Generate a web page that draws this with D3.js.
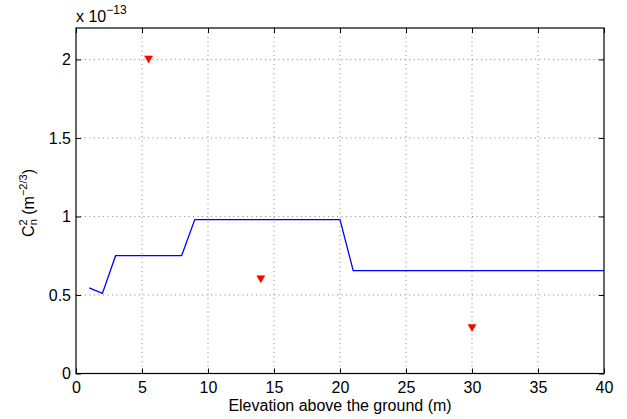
<!DOCTYPE html>
<html><head><meta charset="utf-8">
<script src="https://cdn.jsdelivr.net/npm/d3@7"></script>
<style>body{margin:0;background:#fff}svg{display:block}text{font-family:"Liberation Sans",Arial,sans-serif}</style>
</head><body><svg id="c" width="627" height="419"></svg>
<script>
const lineX = [1, 2, 3, 8, 9, 20, 21, 40];
const lineY = [0.545, 0.51, 0.75, 0.75, 0.98, 0.98, 0.655, 0.655];
const markX = [5.5, 14, 30];
const markY = [2.0, 0.6, 0.29];
const xTicks = [0, 5, 10, 15, 20, 25, 30, 35, 40];
const yTicks = [0, 0.5, 1, 1.5, 2];
const yTickLabels = ["0", "0.5", "1", "1.5", "2"];

const svg = d3.select("#c");
const L = 76, R = 604, T = 28, B = 373.5;
const x = d3.scaleLinear().domain([0, 40]).range([L, R]);
const y = d3.scaleLinear().domain([0, 2.2]).range([B, T]);
const fs = 16;

// grid
const g = svg.append("g");
g.selectAll(".gx").data(xTicks.filter(d => d > 0 && d < 40)).enter().append("line")
  .attr("x1", d => x(d)).attr("x2", d => x(d)).attr("y1", T).attr("y2", B)
  .attr("stroke", "#555").attr("stroke-width", 0.7).attr("stroke-dasharray", "1,3.5");
g.selectAll(".gy").data(yTicks.filter(d => d > 0)).enter().append("line")
  .attr("y1", d => y(d)).attr("y2", d => y(d)).attr("x1", L).attr("x2", R)
  .attr("stroke", "#555").attr("stroke-width", 0.7).attr("stroke-dasharray", "1,3.5");

// axes with inward ticks
const ax = svg.append("g").attr("transform", `translate(0,${B})`)
  .call(d3.axisBottom(x).tickValues(xTicks).tickSizeInner(-5).tickSizeOuter(0).tickPadding(8));
const axT = svg.append("g").attr("transform", `translate(0,${T})`)
  .call(d3.axisTop(x).tickValues(xTicks).tickSizeInner(-5).tickSizeOuter(0).tickFormat(""));
const ay = svg.append("g").attr("transform", `translate(${L},0)`)
  .call(d3.axisLeft(y).tickValues(yTicks).tickSizeInner(-5).tickSizeOuter(0).tickPadding(5)
    .tickFormat((d, i) => yTickLabels[i]));
const ayR = svg.append("g").attr("transform", `translate(${R},0)`)
  .call(d3.axisRight(y).tickValues(yTicks).tickSizeInner(-5).tickSizeOuter(0).tickFormat(""));
[ax, axT, ay, ayR].forEach(a => {
  a.select(".domain").remove();
  a.selectAll("line").attr("stroke", "#000");
  a.selectAll("text").attr("font-size", fs).attr("fill", "#000")
    .style("font-family", "'Liberation Sans', Arial, sans-serif");
});
svg.append("rect").attr("x", L).attr("y", T).attr("width", R - L).attr("height", B - T)
  .attr("fill", "none").attr("stroke", "#000").attr("stroke-width", 1.2);

// line
const pts = lineX.map((d, i) => [d, lineY[i]]);
svg.append("path").datum(pts)
  .attr("d", d3.line().x(d => x(d[0])).y(d => y(d[1])))
  .attr("fill", "none").attr("stroke", "#0000ff").attr("stroke-width", 1.3);

// markers (downward triangles)
const tri = 4;
svg.selectAll(".m").data(markX.map((d, i) => [d, markY[i]])).enter().append("path")
  .attr("d", d => { const cx = x(d[0]), cy = y(d[1]);
    return `M${cx - tri},${cy - 3.5}L${cx + tri},${cy - 3.5}L${cx},${cy + 3.5}Z`; })
  .attr("fill", "#ff0000").attr("stroke", "#ff0000").attr("stroke-width", 0.5);

// x label
svg.append("text").attr("x", x(20)).attr("y", 411).attr("text-anchor", "middle")
  .attr("font-size", fs).text("Elevation above the ground (m)");

// multiplier
const mt = svg.append("text").attr("x", 76).attr("y", 22).attr("font-size", 16);
mt.append("tspan").text("x 10");
mt.append("tspan").attr("dy", -8).attr("font-size", 12).text("\u221213");

// y label
const yl = svg.append("text").attr("transform", `translate(34,203) rotate(-90)`)
  .attr("text-anchor", "middle").attr("font-size", fs);
yl.append("tspan").text("C");
yl.append("tspan").attr("dy", -7).attr("font-size", 11).text("2");
yl.append("tspan").attr("dx", -6).attr("dy", 10).attr("font-size", 11).text("n");
yl.append("tspan").attr("dy", -3).text(" (m");
yl.append("tspan").attr("dy", -7).attr("font-size", 11).text("\u22122/3");
yl.append("tspan").attr("dy", 7).text(")");
</script></body></html>
